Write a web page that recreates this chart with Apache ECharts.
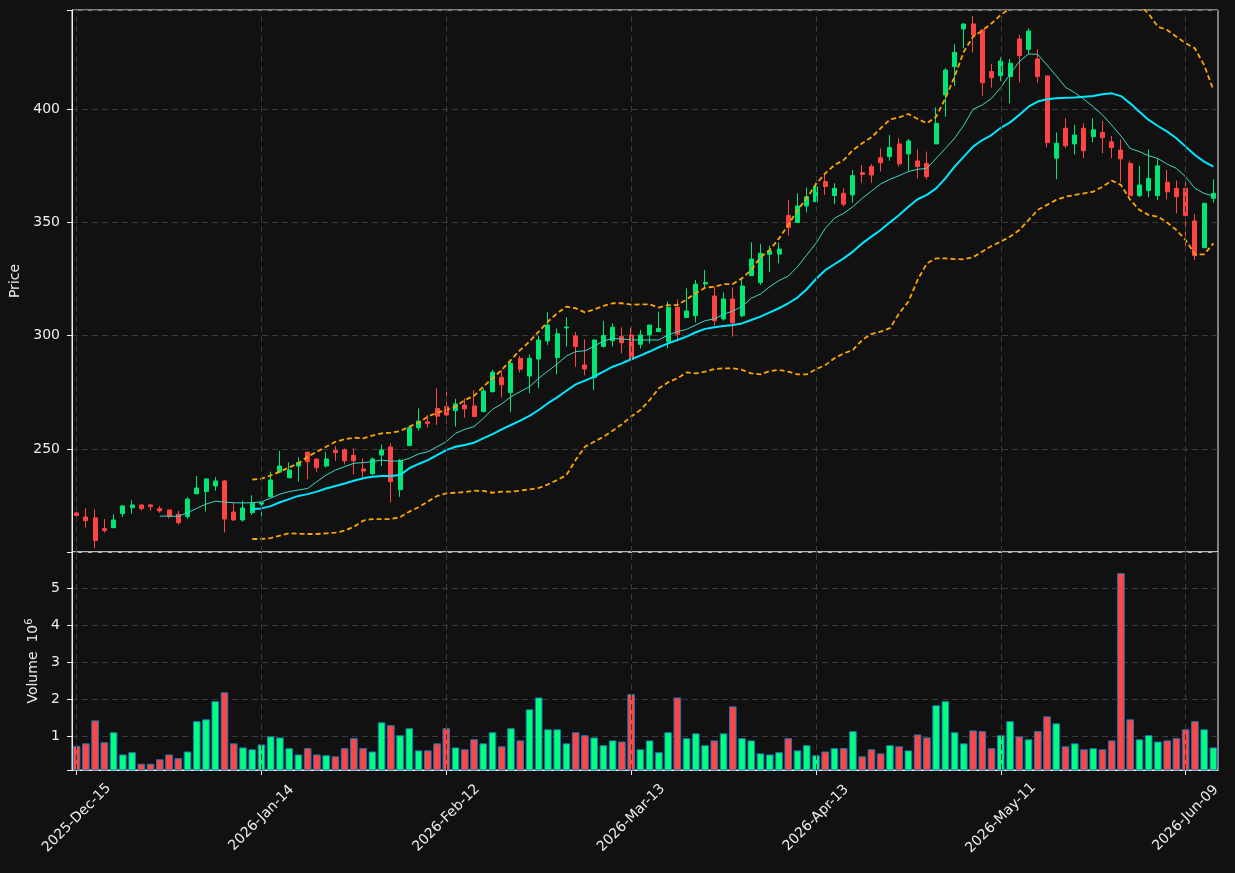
<!DOCTYPE html>
<html>
<head>
<meta charset="utf-8">
<title>Price / Volume</title>
<script src="https://cdn.jsdelivr.net/npm/echarts@6.0.0/dist/echarts.min.js"></script>
<style>
html, body { margin: 0; padding: 0; background: #111111; }
#main { width: 1235px; height: 873px; }
</style>
</head>
<body>
<div id="main"></div>
<script>
// trading days (exchange calendar) per month
var months = ['2025-Dec', '2026-Jan', '2026-Feb', '2026-Mar', '2026-Apr', '2026-May', '2026-Jun'];
var days = [
	[15, 16, 17, 18, 19, 22, 23, 24, 26, 29, 30, 31],
	[2, 5, 6, 7, 8, 9, 12, 13, 14, 15, 16, 20, 21, 22, 23, 26, 27, 28, 29, 30],
	[2, 3, 4, 5, 6, 9, 10, 11, 12, 13, 17, 18, 19, 20, 23, 24, 25, 26, 27],
	[2, 3, 4, 5, 6, 9, 10, 11, 12, 13, 16, 17, 18, 19, 20, 23, 24, 25, 26, 27, 30, 31],
	[1, 2, 6, 7, 8, 9, 10, 13, 14, 15, 16, 17, 20, 21, 22, 23, 24, 27, 28, 29, 30],
	[1, 4, 5, 6, 7, 8, 11, 12, 13, 14, 15, 18, 19, 20, 21, 22, 26, 27, 28, 29],
	[1, 2, 3, 4, 5, 8, 9, 10, 11, 12]
];

// [open, close, low, high]
var candles = [
	[221.8,220.6,218.7,223.8],[220.0,218.4,215.3,223.8],[219.6,209.6,206.2,223.4],[214.9,214.0,213.1,219.1],[215.3,218.7,215.0,221.2],
	[221.5,224.9,219.9,225.3],[224.1,225.3,221.5,227.4],[225.3,223.7,222.9,225.5],[225.3,224.6,222.8,225.7],[223.7,222.7,221.9,224.9],
	[223.1,220.2,219.4,223.1],[221.2,217.5,216.6,222.7],[220.2,227.9,219.1,228.8],[230.2,232.8,230.2,238.1],[231.2,236.8,222.4,237.0],
	[233.7,235.9,231.6,237.6],[235.9,219.1,213.1,236.3],[222.2,218.7,218.3,226.5],[218.7,224.0,217.9,227.1],[221.9,226.1,220.9,229.6],
	[225.7,226.3,219.2,228.5],[228.9,236.3,228.7,240.0],[239.8,242.5,239.5,249.2],[237.3,240.7,237.2,244.1],[242.5,244.1,235.6,246.3],
	[248.6,244.4,236.7,248.8],[245.6,241.8,240.0,245.6],[242.5,245.6,241.8,248.6],[249.3,248.4,244.8,251.3],[249.6,244.8,243.2,250.3],
	[247.2,244.8,238.8,250.3],[241.2,240.3,237.5,245.9],[239.1,245.6,238.5,246.3],[247.3,249.6,242.5,252.0],[250.9,235.6,226.4,252.5],
	[232.0,245.0,228.9,245.6],[251.5,259.4,251.3,259.5],[259.4,262.3,258.1,267.9],[262.0,261.2,259.4,265.0],[267.9,264.5,260.6,276.8],
	[268.7,265.0,261.3,277.2],[266.9,269.9,259.9,272.1],[269.4,267.7,263.8,272.4],[269.0,264.3,264.3,276.0],[266.5,275.6,266.5,276.8],
	[275.3,283.9,274.9,284.9],[281.6,278.3,272.8,284.9],[274.9,287.8,266.2,289.7],[290.0,285.2,283.7,291.1],[282.2,290.0,274.6,291.8],
	[289.7,298.1,276.8,300.0],[297.7,304.7,295.9,310.3],[290.3,300.8,282.9,303.2],[303.4,303.8,295.2,308.1],[299.9,295.2,286.3,301.6],
	[287.1,285.3,282.5,298.4],[281.5,298.1,276.0,298.3],[295.2,300.1,294.8,306.5],[297.8,303.7,295.2,305.4],[299.6,296.9,292.2,303.7],
	[300.3,289.6,289.6,303.6],[296.2,300.3,294.4,302.5],[300.3,304.7,296.6,304.8],[301.8,303.2,301.8,310.6],[297.4,312.5,294.4,315.0],
	[312.5,300.6,297.4,316.0],[308.0,310.9,308.0,320.9],[308.8,322.7,305.9,324.6],[322.8,323.5,321.3,329.0],[317.5,306.6,304.4,321.6],
	[307.4,316.2,306.6,319.1],[316.2,305.7,299.6,321.3],[308.8,321.9,308.1,325.3],[326.5,333.8,326.5,341.2],[323.5,336.3,322.4,340.5],
	[335.9,337.4,328.0,339.6],[336.0,338.2,331.9,341.2],[353.0,347.7,344.1,359.9],[349.9,357.2,349.9,362.8],[357.2,361.3,354.4,365.4],
	[359.1,365.7,359.1,367.5],[368.0,365.8,362.1,371.6],[361.8,365.0,358.0,367.2],[362.8,358.0,356.9,365.0],[362.1,370.6,358.7,373.1],
	[371.9,371.1,367.5,375.3],[374.6,370.9,367.5,375.8],[378.5,376.3,372.4,382.6],[379.0,383.0,377.2,388.5],[384.6,375.8,374.6,387.1],
	[380.2,385.9,372.4,386.8],[377.1,374.6,369.4,382.2],[376.0,370.2,369.0,381.2],[384.6,393.7,384.6,400.7],[406.2,417.2,396.6,418.0],
	[418.7,425.0,410.2,428.7],[435.3,437.5,426.8,437.8],[437.5,432.7,424.9,441.0],[434.9,411.6,405.8,435.2],[416.5,413.8,409.4,419.9],
	[414.7,421.2,412.4,422.8],[414.3,420.2,402.5,422.1],[430.9,423.6,411.8,432.7],[426.3,434.4,424.1,435.6],[422.1,414.3,411.6,426.3],
	[414.6,385.2,383.1,414.6],[378.3,384.9,369.0,389.6],[391.5,383.8,382.7,395.9],[384.6,388.5,380.0,393.0],[391.5,381.6,378.3,393.7],
	[387.8,390.8,385.3,395.9],[389.6,387.4,380.5,394.7],[385.5,383.0,378.3,388.1],[381.9,378.0,367.7,386.6],[376.0,361.8,361.8,377.2],
	[361.8,366.5,361.1,374.9],[364.0,369.4,361.1,382.2],[361.8,374.9,359.9,378.3],[367.7,363.5,360.2,373.1],[365.0,361.3,354.0,368.4],
	[365.0,353.0,339.0,368.4],[350.6,335.3,333.4,353.7],[338.8,358.4,338.8,358.4],[360.6,362.8,358.7,369.0]
];

// volume, millions
var volume = [
	0.74,0.81,1.43,0.84,1.11,0.51,0.57,0.26,0.26,0.38,
	0.51,0.41,0.59,1.41,1.46,1.95,2.19,0.81,0.70,0.65,
	0.78,1.00,0.97,0.68,0.51,0.68,0.51,0.49,0.46,0.68,
	0.95,0.68,0.59,1.38,1.30,1.03,1.22,0.62,0.62,0.81,
	1.22,0.70,0.65,0.92,0.81,1.11,0.73,1.22,0.89,1.73,
	2.05,1.19,1.19,0.81,1.11,1.03,0.97,0.76,0.89,0.86,
	2.14,0.65,0.89,0.57,1.11,2.05,0.95,1.08,0.76,0.89,
	1.08,1.81,0.95,0.89,0.54,0.51,0.57,0.95,0.62,0.76,
	0.49,0.59,0.68,0.68,1.14,0.46,0.65,0.54,0.76,0.73,
	0.62,1.05,0.97,1.84,1.95,1.11,0.81,1.16,1.14,0.68,
	1.03,1.41,1.00,0.92,1.14,1.54,1.35,0.73,0.81,0.65,
	0.68,0.65,0.89,5.41,1.46,0.92,1.03,0.86,0.89,0.95,
	1.19,1.41,1.19,0.70
];

// short moving average, starts at bar 9
var maShortStart = 9;
var maShort = [
	220.4,220.4,220.3,221.9,223.8,225.7,227.0,226.6,226.3,226.2,
	226.3,226.7,228.3,230.1,231.2,231.9,232.6,235.6,238.5,240.7,
	242.2,243.7,244.0,244.4,245.1,244.7,244.7,245.9,247.8,248.8,
	251.0,253.2,256.9,258.7,259.9,263.5,267.5,269.9,273.1,275.3,
	277.5,281.2,284.4,287.5,291.0,293.0,293.3,295.4,297.6,298.8,
	298.5,298.2,298.1,298.1,298.1,300.3,301.8,302.8,304.7,306.6,
	307.4,309.4,310.9,312.8,316.5,318.4,321.6,324.3,326.3,330.4,
	335.6,340.8,347.3,351.8,354.0,356.9,360.6,363.8,366.9,369.0,
	370.6,372.4,373.4,373.8,378.2,382.6,387.1,392.9,399.9,401.8,
	404.7,409.5,415.4,420.9,424.3,424.1,419.4,414.6,409.6,407.2,
	404.3,401.0,397.4,392.9,388.1,382.6,381.2,379.4,378.2,375.7,
	373.8,370.1,365.0,362.8,361.6
];

// long moving average and bands, start at bar 19
var maLongStart = 19;
var maLong = [
	223.4,223.8,224.8,226.5,227.9,229.3,230.1,231.2,232.6,233.7,
	234.8,236.0,237.1,237.8,238.1,238.1,238.5,241.5,243.4,245.1,
	247.3,249.5,251.0,251.8,252.8,254.7,256.6,258.7,260.6,262.5,
	264.6,267.2,270.2,272.8,275.7,278.5,280.2,281.9,284.1,286.3,
	287.8,289.6,291.2,293.0,294.9,296.6,298.1,299.6,301.5,303.0,
	303.7,304.3,304.7,305.4,306.9,308.4,310.3,312.1,314.3,316.8,
	320.5,325.0,328.9,331.5,334.1,337.1,340.7,343.7,346.6,350.0,
	353.2,356.9,360.2,362.1,365.0,369.4,374.6,379.0,383.4,386.3,
	388.5,391.7,394.1,397.4,401.0,403.3,404.3,404.7,405.0,405.1,
	405.4,405.7,406.5,406.9,405.7,402.5,398.8,395.2,392.5,390.0,
	387.1,383.4,379.7,376.8,374.6
];
var bandUpper = [
	236.5,236.9,238.3,240.0,241.9,243.7,246.6,248.8,251.0,253.2,
	254.3,255.0,254.7,255.9,256.9,257.2,257.9,259.9,261.6,264.3,
	266.0,267.2,268.7,271.6,273.4,277.5,281.2,284.9,289.3,293.7,
	297.4,301.8,306.2,309.9,312.8,312.1,310.3,311.6,313.1,314.3,
	314.3,313.7,313.8,313.8,312.4,313.5,313.5,316.0,318.7,321.2,
	321.6,322.7,322.8,325.3,329.0,334.6,337.8,342.9,348.8,355.4,
	360.6,366.8,371.6,375.3,377.5,381.9,384.9,387.5,391.5,395.4,
	396.3,397.8,395.6,393.7,396.6,404.7,414.3,425.3,431.9,434.6,
	437.8,441.5,444.5,448.2,451.0,451.1,450.9,449.5,448.7,448.1,
	448.0,447.9,447.3,445.4,444.9,445.1,446.0,442.0,436.3,434.9,
	431.9,429.0,426.8,419.4,408.4
];
var bandLower = [
	210.3,210.3,210.7,211.8,212.8,212.6,212.5,212.5,212.8,213.1,
	214.0,215.7,218.4,219.1,219.1,219.1,219.9,222.4,224.3,226.8,
	229.3,230.4,230.7,231.0,231.6,231.5,230.7,231.2,231.2,231.6,
	232.2,232.8,234.4,236.3,238.5,245.2,251.0,253.2,255.4,258.1,
	260.9,264.3,267.2,271.6,276.8,279.4,281.2,283.8,283.4,284.1,
	285.3,285.6,285.6,284.9,283.4,282.9,284.4,284.9,284.1,282.9,
	282.9,285.2,287.0,290.0,292.2,293.7,298.1,300.7,301.8,303.3,
	309.9,315.0,324.6,331.9,334.1,334.1,333.8,333.7,334.6,337.1,
	339.6,341.5,343.7,346.6,351.0,355.5,357.7,359.9,361.3,362.1,
	362.8,363.5,365.7,368.4,366.5,359.9,355.5,353.2,352.5,349.9,
	346.6,342.2,335.9,335.9,340.7
];

var labelEvery = 20;
var upColor = '#00e676', downColor = '#ff4444';
var volUp = '#00ff80', volDown = '#ff4646';
var textColor = '#eeeeee', gridColor = '#3a3a3a';
var font = 'DejaVu Sans';

// category names
var dates = [];
for (var m = 0; m < months.length; m++) {
	for (var d = 0; d < days[m].length; d++) {
		dates.push(months[m] + '-' + (days[m][d] < 10 ? '0' : '') + days[m][d]);
	}
}

function padFront(start, arr) {
	var out = [];
	for (var i = 0; i < start; i++) out.push(null);
	return out.concat(arr);
}

var volData = volume.map(function (v, i) {
	var up = candles[i][1] >= candles[i][0];
	return { value: v, itemStyle: { color: up ? volUp : volDown } };
});

// vertical dashed grid lines on the labelled dates
var vLines = [];
for (var k = 0; k < dates.length; k += labelEvery) vLines.push({ xAxis: dates[k] });
var emptyData = dates.map(function () { return null; });

function gridMarkSeries(idx) {
	return {
		type: 'line', xAxisIndex: idx, yAxisIndex: idx, data: emptyData, z: 1, silent: true,
		markLine: {
			silent: true, symbol: ['none', 'none'], label: { show: false }, animation: false,
			lineStyle: { color: gridColor, type: [6, 4], width: 1 },
			emphasis: { disabled: true },
			data: vLines
		}
	};
}

var myChart = echarts.init(document.getElementById('main'));
var option = {
	backgroundColor: '#111111',
	animation: false,
	textStyle: { fontFamily: font },
	grid: [
		{ left: 72, top: 10, width: 1146, height: 542, show: true, borderColor: '#f0f0f0', borderWidth: 1, backgroundColor: 'transparent', outerBoundsMode: 'none' },
		{ left: 72, top: 552, width: 1146, height: 218, show: true, borderColor: '#f0f0f0', borderWidth: 1, backgroundColor: 'transparent', outerBoundsMode: 'none' }
	],
	xAxis: [
		{
			type: 'category', gridIndex: 0, data: dates, boundaryGap: true,
			axisLine: { show: false }, axisTick: { show: false }, axisLabel: { show: false }, splitLine: { show: false }
		},
		{
			type: 'category', gridIndex: 1, data: dates, boundaryGap: true,
			axisLine: { show: true, lineStyle: { color: '#f0f0f0' } },
			axisTick: { show: true, alignWithLabel: true, interval: labelEvery - 1, length: 5, lineStyle: { color: '#f0f0f0' } },
			axisLabel: {
				show: true, interval: labelEvery - 1, rotate: 45, align: 'center', verticalAlign: 'middle',
				margin: 48, color: textColor, fontSize: 14, fontFamily: font
			},
			splitLine: { show: false }
		}
	],
	yAxis: [
		{
			type: 'value', gridIndex: 0, min: 204.56, max: 443.68, scale: true,
			name: 'Price', nameLocation: 'middle', nameGap: 43,
			nameTextStyle: { color: textColor, fontSize: 14, fontFamily: font },
			axisLine: { show: true, lineStyle: { color: '#f0f0f0' } },
			axisTick: { show: true, length: 5, lineStyle: { color: '#f0f0f0' } },
			axisLabel: {
				color: textColor, fontSize: 14, fontFamily: font, margin: 12,
				formatter: function (v) { return v % 50 === 0 ? String(v) : ''; }
			},
			splitLine: { show: true, lineStyle: { color: gridColor, type: [6, 4] } }
		},
		{
			type: 'value', gridIndex: 1, min: 0.09, max: 5.98, scale: true,
			name: 'Volume  10{s|6}', nameLocation: 'middle', nameGap: 27,
			nameTextStyle: {
				color: textColor, fontSize: 14, fontFamily: font,
				rich: { s: { fontSize: 10, color: textColor, fontFamily: font, verticalAlign: 'top', padding: [0, 0, 8, 0] } }
			},
			axisLine: { show: true, lineStyle: { color: '#f0f0f0' } },
			axisTick: { show: true, length: 5, lineStyle: { color: '#f0f0f0' } },
			axisLabel: {
				color: textColor, fontSize: 14, fontFamily: font, margin: 12,
				formatter: function (v) { return (Math.abs(v - Math.round(v)) < 1e-9 && v >= 1 && v <= 5) ? String(Math.round(v)) : ''; }
			},
			splitLine: { show: true, lineStyle: { color: gridColor, type: [6, 4] } }
		}
	],
	series: [
		gridMarkSeries(0),
		gridMarkSeries(1),
		{
			name: 'Candles', type: 'candlestick', xAxisIndex: 0, yAxisIndex: 0, data: candles, z: 2,
			barWidth: 4.5,
			itemStyle: { color: upColor, color0: downColor, borderColor: upColor, borderColor0: downColor, borderWidth: 1 }
		},
		{
			name: 'MA long', type: 'line', xAxisIndex: 0, yAxisIndex: 0, data: padFront(maLongStart, maLong), z: 3,
			showSymbol: false, lineStyle: { color: '#00e8ff', width: 2 }
		},
		{
			name: 'MA short', type: 'line', xAxisIndex: 0, yAxisIndex: 0, data: padFront(maShortStart, maShort), z: 3,
			showSymbol: false, lineStyle: { color: '#3fd6c6', width: 1 }
		},
		{
			name: 'Upper', type: 'line', xAxisIndex: 0, yAxisIndex: 0, data: padFront(maLongStart, bandUpper), z: 3,
			showSymbol: false, clip: true, lineStyle: { color: '#ffa500', width: 1.8, type: [5, 3] }
		},
		{
			name: 'Lower', type: 'line', xAxisIndex: 0, yAxisIndex: 0, data: padFront(maLongStart, bandLower), z: 3,
			showSymbol: false, clip: true, lineStyle: { color: '#ffa500', width: 1.8, type: [5, 3] }
		},
		{
			name: 'Volume', type: 'bar', xAxisIndex: 1, yAxisIndex: 1, data: volData, z: 2,
			barWidth: 7.6,
			itemStyle: { borderColor: '#1f77b4', borderWidth: 1 }
		}
	]
};

myChart.setOption(option);
</script>
</body>
</html>
